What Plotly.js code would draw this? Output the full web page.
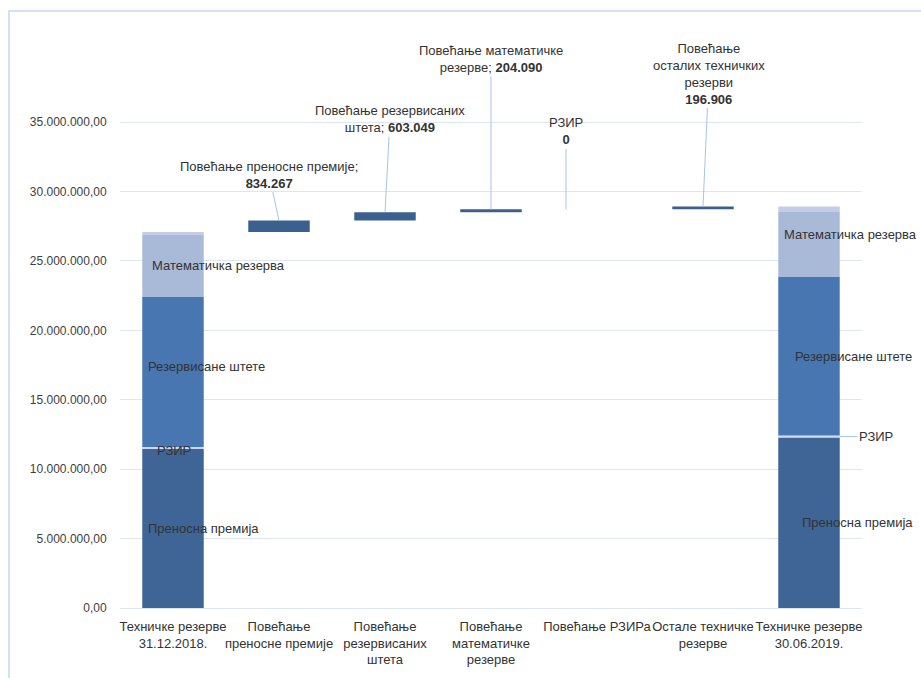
<!DOCTYPE html>
<html>
<head>
<meta charset="utf-8">
<script src="https://cdn.plot.ly/plotly-3.0.1.min.js"></script>
<style>
html,body{margin:0;padding:0;background:#fff;overflow:hidden;}
#wrap{position:relative;width:921px;height:678px;overflow:hidden;}
#chart{width:921px;height:678px;}
#frame{position:absolute;left:8px;top:10px;width:960px;height:720px;border-top:2px solid #d3e0f4;border-left:2px solid #d3e0f4;pointer-events:none;}
</style>
</head>
<body>
<div id="wrap"><div id="chart"></div><div id="frame"></div></div>
<script>
// ---- data ----
const categories = [
  'Техничке резерве<br>31.12.2018.',
  'Повећање<br>преносне премије',
  'Повећање<br>резервисаних<br>штета',
  'Повећање<br>математичке<br>резерве',
  'Повећање РЗИРа',
  'Остале техничке<br>резерве',
  'Техничке резерве<br>30.06.2019.'
];
const segmentNames = ['Преносна премија', 'РЗИР', 'Резервисане штете', 'Математичка резерва', 'Остале техничке резерве'];
const startValues = [11450000, 150000, 10800000, 4480000, 200000];
const increments = [834267, 603049, 204090, 0, 196906];
const incrementSegment = [0, 2, 3, 1, 4];
const incrementLabels = ['Повећање преносне премије;', 'Повећање резервисаних<br>штета;', 'Повећање математичке<br>резерве;', 'РЗИР', 'Повећање<br>осталих техничких<br>резерви'];
const incrementSeparators = ['<br>', ' ', ' ', '<br>', '<br>'];

// ---- styles ----
const segColors = ['#3e6596', '#cdd8ec', '#4876b0', '#a9bad9', '#c3cee6'];
const incColor = '#3b6090';
const txtColor = '#333333';
const font = 'Liberation Sans, Arial, sans-serif';

function fmt(v){ return Math.round(v).toString().replace(/\B(?=(\d{3})+(?!\d))/g, '.'); }

const endValues = startValues.slice();
increments.forEach((v,i)=>{ endValues[incrementSegment[i]] += v; });

const first = categories[0], last = categories[categories.length-1];
const traces = [];
let cumS = 0, cumE = 0;
const segMids = [];
segmentNames.forEach((n,k)=>{
  traces.push({type:'bar', x:[first,last], y:[startValues[k], endValues[k]], base:[cumS, cumE],
    marker:{color:segColors[k]}, width:0.58, name:n, hoverinfo:'skip'});
  segMids.push([cumS + startValues[k]/2, cumE + endValues[k]/2]);
  cumS += startValues[k]; cumE += endValues[k];
});
const incX = categories.slice(1, 6);
const incBase = [];
let run = cumS;
increments.forEach(v=>{ incBase.push(run); run += v; });
traces.push({type:'bar', x:incX, y:increments, base:incBase, marker:{color:incColor}, width:0.58, hoverinfo:'skip'});

const annotations = [];
const aFont = {family:font, size:13, color:txtColor};
// inside labels first bar
const firstShifts = [[0,-27,0],[2,-27,6],[3,-23,0]];
firstShifts.forEach(([k,xs,ys])=>{
  annotations.push({x:first, y:segMids[k][0], text:segmentNames[k], showarrow:false, xanchor:'left', xshift:xs, yshift:ys, font:aFont});
});
annotations.push({x:first, y:segMids[1][0], text:segmentNames[1], showarrow:false, xanchor:'left', xshift:-18, yshift:-2, font:aFont});
// labels last bar
const lastShifts = [[0,-9,0],[2,-16,0],[3,-27,10]];
lastShifts.forEach(([k,xs,ys])=>{
  annotations.push({x:last, y:segMids[k][1], text:segmentNames[k], showarrow:false, xanchor:'left', xshift:xs, yshift:ys, font:aFont});
});
annotations.push({x:last, y:segMids[1][1], text:segmentNames[1], showarrow:true, arrowhead:0, arrowwidth:1, arrowcolor:'#a6c4e6',
  xshift:31, ax:36, ay:0, font:aFont});
// increment labels
const incOffsets = [[-10,-46,0],[5,-93,0],[0,-150,0],[0,-78,-31],[6,-133,0]];
increments.forEach((v,i)=>{
  const [ax,ay,xs] = incOffsets[i];
  annotations.push({x:incX[i], y:incBase[i]+v, text:incrementLabels[i]+incrementSeparators[i]+'<b>'+fmt(v)+'</b>',
    showarrow:true, arrowhead:0, arrowwidth:1, arrowcolor:'#a6c4e6', ax:ax, ay:ay, xshift:xs, font:aFont, align:'center'});
});

const layout = {
  width:921, height:678,
  margin:{l:120, r:59, t:118, b:70},
  paper_bgcolor:'rgba(0,0,0,0)', plot_bgcolor:'#fff',
  separators:',.',
  barmode:'overlay',
  showlegend:false,
  hovermode:false,
  font:{family:font, size:12, color:'#404040'},
  xaxis:{type:'category', categoryarray:categories, categoryorder:'array', range:[-0.5, categories.length-0.5], autorange:false,
    showgrid:false, zeroline:false, showline:false, tickangle:0, automargin:false,
    ticks:'outside', ticklen:6, tickcolor:'rgba(0,0,0,0)', tickfont:{family:font, size:13, color:txtColor}},
  yaxis:{range:[0, 35300000], autorange:false, dtick:5000000, tickformat:',.2f', gridcolor:'#dde7f4', gridwidth:1, automargin:false,
    zeroline:true, zerolinecolor:'#dde7f4', showline:false, ticks:'outside', ticklen:10, tickcolor:'rgba(0,0,0,0)',
    tickfont:{family:font, size:12, color:'#404040'}},
  annotations:annotations
};
Plotly.newPlot('chart', traces, layout, {displayModeBar:false, staticPlot:true});
</script>
</body>
</html>
